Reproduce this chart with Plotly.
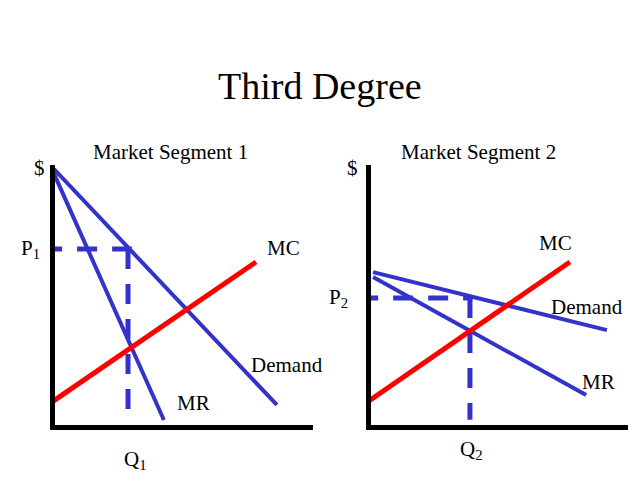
import plotly.graph_objects as go

# ---------------- data (quantity / price units) ----------------
# Market Segment 1
demand1_q = [-0.19, 8.60]
demand1_p = [10.0, 0.77]
mr1_q = [-0.19, 4.22]
mr1_p = [10.0, 0.19]
mc1_q = [-0.23, 7.79]
mc1_p = [0.81, 6.27]
q1, p1 = 2.83, 6.77
q1_floor = 0.5
p1_line = [-0.5, 2.98]

# Market Segment 2
demand2_q = [0.08, 9.18]
demand2_p = [5.88, 3.65]
mr2_q = [0.08, 8.37]
mr2_p = [5.69, 1.15]
mc2_q = [-0.31, 7.74]
mc2_p = [0.77, 6.27]
q2, p2 = 3.85, 4.88
q2_floor = 0.2
p2_line = [-0.5, 3.95]

# label positions (data units)
labels1 = {"MC": (8.84, 6.81), "Demand": (8.99, 2.31), "MR": (5.35, 0.85)}
labels2 = {"MC": (7.16, 7.0), "Demand": (8.4, 4.54), "MR": (8.87, 1.65)}

BLUE = "#3333CC"
RED = "#FF0000"
FONT = "Liberation Serif"
DASH = "20px,15px"

fig = go.Figure()

def add_segment(xa, ya, dq, dp, mrq, mrp, mcq, mcp, q, p, qfloor, pline):
    fig.add_trace(go.Scatter(x=dq, y=dp, mode="lines", xaxis=xa, yaxis=ya,
                             line=dict(color=BLUE, width=4), hoverinfo="skip"))
    fig.add_trace(go.Scatter(x=mrq, y=mrp, mode="lines", xaxis=xa, yaxis=ya,
                             line=dict(color=BLUE, width=4), hoverinfo="skip"))
    fig.add_trace(go.Scatter(x=mcq, y=mcp, mode="lines", xaxis=xa, yaxis=ya,
                             line=dict(color=RED, width=5), hoverinfo="skip"))
    fig.add_trace(go.Scatter(x=pline, y=[p, p], mode="lines", xaxis=xa, yaxis=ya,
                             line=dict(color=BLUE, width=5, dash=DASH), hoverinfo="skip"))
    fig.add_trace(go.Scatter(x=[q, q], y=[p, qfloor], mode="lines", xaxis=xa, yaxis=ya,
                             line=dict(color=BLUE, width=5, dash=DASH), hoverinfo="skip"))

add_segment("x", "y", demand1_q, demand1_p, mr1_q, mr1_p, mc1_q, mc1_p, q1, p1, q1_floor, p1_line)
add_segment("x2", "y2", demand2_q, demand2_p, mr2_q, mr2_p, mc2_q, mc2_p, q2, p2, q2_floor, p2_line)

axis_common = dict(showline=True, linecolor="black", linewidth=5, showgrid=False,
                   zeroline=False, showticklabels=False, ticks="", fixedrange=True)

fig.update_layout(
    width=640, height=480,
    margin=dict(l=0, r=0, t=0, b=0),
    paper_bgcolor="white", plot_bgcolor="white",
    showlegend=False,
    xaxis=dict(domain=[55/640, 313/640], range=[0, 10], anchor="y", **axis_common),
    yaxis=dict(domain=[55/480, 315/480], range=[0, 10], anchor="x", **axis_common),
    xaxis2=dict(domain=[371/640, 628/640], range=[0, 10], anchor="y2", **axis_common),
    yaxis2=dict(domain=[55/480, 315/480], range=[0, 10], anchor="x2", **axis_common),
)

ann = []
txt = dict(family=FONT, size=21, color="black")
c = dict(showarrow=False, xanchor="center", yanchor="middle")
ann.append(dict(text="Third Degree", x=0.5, y=(480-86)/480, xref="paper", yref="paper",
                font=dict(family=FONT, size=38, color="black"), **c))
ann.append(dict(text="Market Segment 1", x=170/640, y=(480-152)/480, xref="paper", yref="paper",
                font=txt, **c))
ann.append(dict(text="Market Segment 2", x=478/640, y=(480-152)/480, xref="paper", yref="paper",
                font=txt, **c))
for name, (lx, ly) in labels1.items():
    ann.append(dict(text=name, x=lx, y=ly, xref="x", yref="y", font=txt, **c))
for name, (lx, ly) in labels2.items():
    ann.append(dict(text=name, x=lx, y=ly, xref="x2", yref="y2", font=txt, **c))
# axis labels
ann.append(dict(text="$", x=39/640, y=(480-168)/480, xref="paper", yref="paper", font=txt, **c))
ann.append(dict(text="$", x=352/640, y=(480-168)/480, xref="paper", yref="paper", font=txt, **c))
ann.append(dict(text="P<sub>1</sub>", x=30/640, y=p1, xref="paper", yref="y", font=txt, **c))
ann.append(dict(text="P<sub>2</sub>", x=338/640, y=p2, xref="paper", yref="y2", font=txt, **c))
ann.append(dict(text="Q<sub>1</sub>", x=q1, y=20/480, xref="x", yref="paper", xshift=7, font=txt, **c))
ann.append(dict(text="Q<sub>2</sub>", x=q2, y=30/480, xref="x2", yref="paper", xshift=2, font=txt, **c))
fig.update_layout(annotations=ann)

fig.write_html("out.html", config={"displayModeBar": False},
               post_script="document.body.style.margin='0';")
